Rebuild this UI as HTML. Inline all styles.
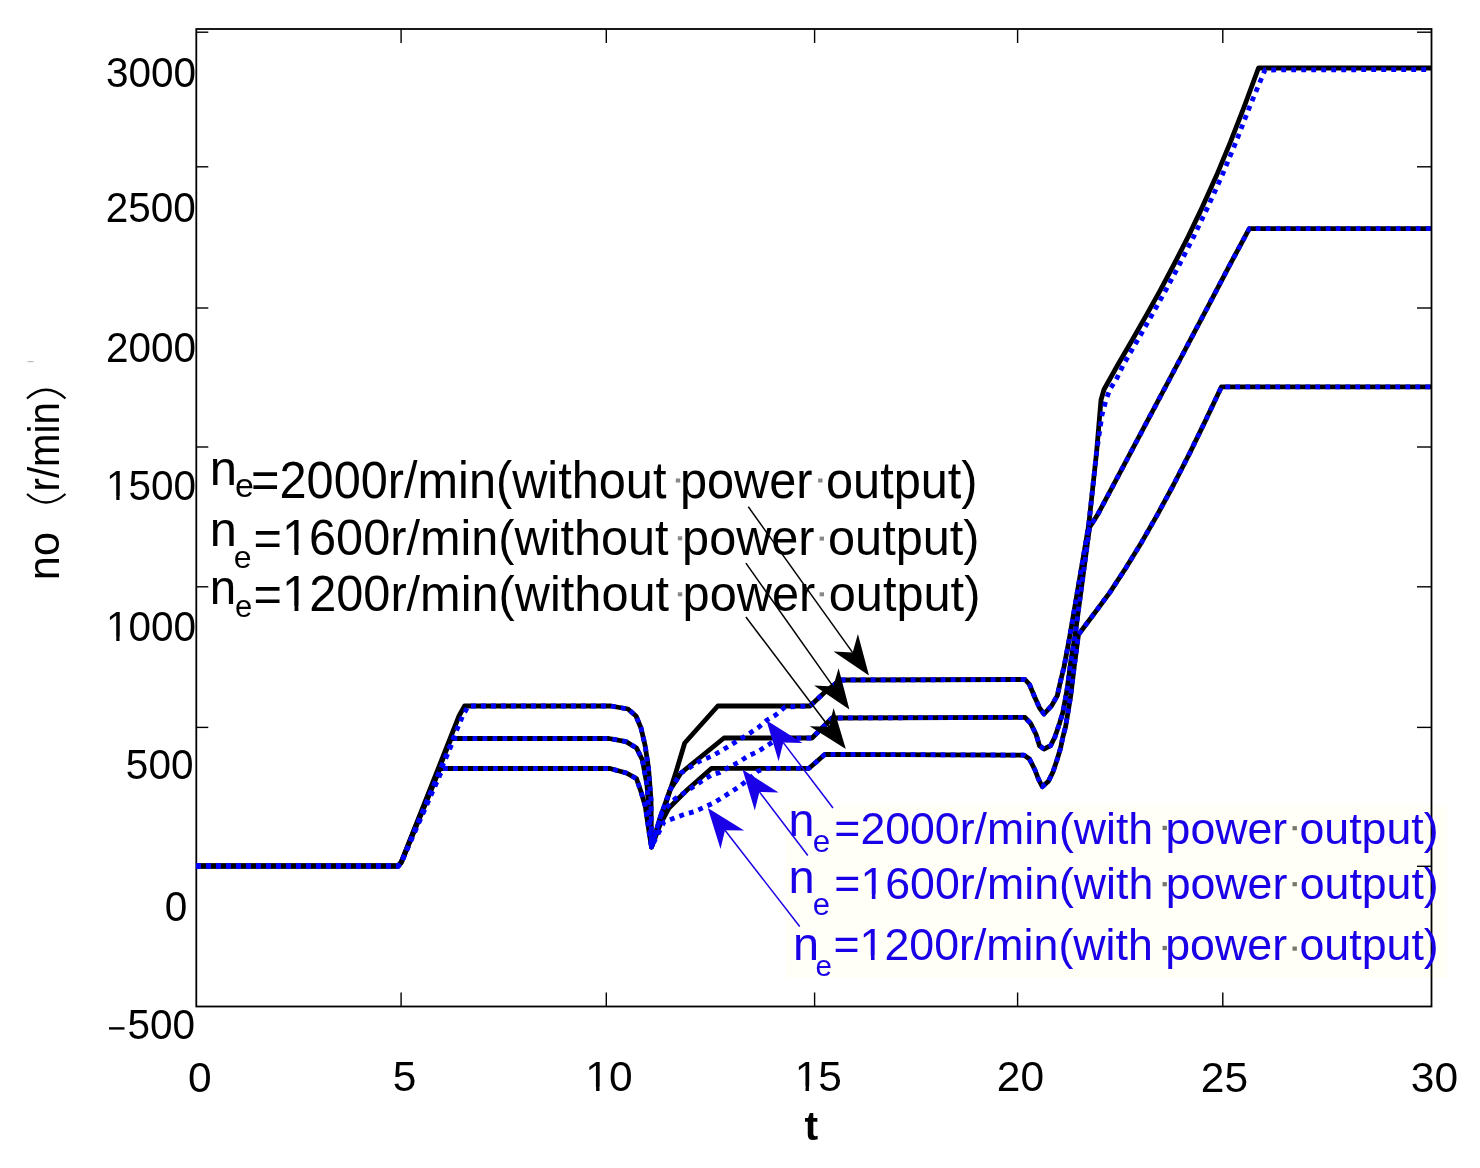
<!DOCTYPE html>
<html><head><meta charset="utf-8"><style>
html,body{margin:0;padding:0;background:#fff;}
svg{display:block;will-change:transform;}
text{font-family:"Liberation Sans",sans-serif;}
</style></head><body>
<svg width="1480" height="1168" viewBox="0 0 1480 1168">
<rect width="1480" height="1168" fill="#fff"/>
<rect x="786" y="805" width="661" height="173" fill="#fffff7"/>
<rect x="196.3" y="29.0" width="1235.2" height="977.5" fill="none" stroke="#000" stroke-width="1.8"/>
<line x1="196.3" y1="32.2" x2="208.3" y2="32.2" stroke="#000" stroke-width="1.4"/>
<line x1="1431.5" y1="32.2" x2="1417.0" y2="32.2" stroke="#000" stroke-width="1.4"/>
<line x1="196.3" y1="166.8" x2="208.3" y2="166.8" stroke="#000" stroke-width="1.4"/>
<line x1="1431.5" y1="166.8" x2="1417.0" y2="166.8" stroke="#000" stroke-width="1.4"/>
<line x1="196.3" y1="308.0" x2="208.3" y2="308.0" stroke="#000" stroke-width="1.4"/>
<line x1="1431.5" y1="308.0" x2="1417.0" y2="308.0" stroke="#000" stroke-width="1.4"/>
<line x1="196.3" y1="447.0" x2="208.3" y2="447.0" stroke="#000" stroke-width="1.4"/>
<line x1="1431.5" y1="447.0" x2="1417.0" y2="447.0" stroke="#000" stroke-width="1.4"/>
<line x1="196.3" y1="586.8" x2="208.3" y2="586.8" stroke="#000" stroke-width="1.4"/>
<line x1="1431.5" y1="586.8" x2="1417.0" y2="586.8" stroke="#000" stroke-width="1.4"/>
<line x1="196.3" y1="727.4" x2="208.3" y2="727.4" stroke="#000" stroke-width="1.4"/>
<line x1="1431.5" y1="727.4" x2="1417.0" y2="727.4" stroke="#000" stroke-width="1.4"/>
<line x1="196.3" y1="866.3" x2="208.3" y2="866.3" stroke="#000" stroke-width="1.4"/>
<line x1="1431.5" y1="866.3" x2="1417.0" y2="866.3" stroke="#000" stroke-width="1.4"/>
<line x1="401.1" y1="1006.5" x2="401.1" y2="992.5" stroke="#000" stroke-width="1.4"/>
<line x1="401.1" y1="29.0" x2="401.1" y2="43.0" stroke="#000" stroke-width="1.4"/>
<line x1="606.3" y1="1006.5" x2="606.3" y2="992.5" stroke="#000" stroke-width="1.4"/>
<line x1="606.3" y1="29.0" x2="606.3" y2="43.0" stroke="#000" stroke-width="1.4"/>
<line x1="814.6" y1="1006.5" x2="814.6" y2="992.5" stroke="#000" stroke-width="1.4"/>
<line x1="814.6" y1="29.0" x2="814.6" y2="43.0" stroke="#000" stroke-width="1.4"/>
<line x1="1017.6" y1="1006.5" x2="1017.6" y2="992.5" stroke="#000" stroke-width="1.4"/>
<line x1="1017.6" y1="29.0" x2="1017.6" y2="43.0" stroke="#000" stroke-width="1.4"/>
<line x1="1222.8" y1="1006.5" x2="1222.8" y2="992.5" stroke="#000" stroke-width="1.4"/>
<line x1="1222.8" y1="29.0" x2="1222.8" y2="43.0" stroke="#000" stroke-width="1.4"/>
<rect x="109" y="1027.2" width="15.5" height="2.4" fill="#000"/>
<g transform="translate(106.02,86.82) scale(0.9426,1)"><text x="0" y="0" font-size="43.0" fill="#000">3000</text></g>
<g transform="translate(105.72,221.82) scale(0.9426,1)"><text x="0" y="0" font-size="43.0" fill="#000">2500</text></g>
<g transform="translate(105.92,362.22) scale(0.9426,1)"><text x="0" y="0" font-size="43.0" fill="#000">2000</text></g>
<g transform="translate(105.92,500.38) scale(0.9426,1)"><text x="0" y="0" font-size="43.0" fill="#000">1500</text><rect x="1.68" y="-4.41" width="9.30" height="6.01" fill="#fff"/><rect x="14.45" y="-4.41" width="8.86" height="6.01" fill="#fff"/></g>
<g transform="translate(105.92,641.08) scale(0.9426,1)"><text x="0" y="0" font-size="43.0" fill="#000">1000</text><rect x="1.68" y="-4.41" width="9.30" height="6.01" fill="#fff"/><rect x="14.45" y="-4.41" width="8.86" height="6.01" fill="#fff"/></g>
<g transform="translate(125.86,779.48) scale(0.9426,1)"><text x="0" y="0" font-size="43.0" fill="#000">500</text></g>
<g transform="translate(164.74,920.52) scale(0.9426,1)"><text x="0" y="0" font-size="43.0" fill="#000">0</text></g>
<g transform="translate(127.46,1038.88) scale(0.9426,1)"><text x="0" y="0" font-size="43.0" fill="#000">500</text></g>
<g transform="translate(188.04,1091.68) scale(1.0000,1)"><text x="0" y="0" font-size="42.5" fill="#000">0</text></g>
<g transform="translate(392.80,1091.24) scale(1.0000,1)"><text x="0" y="0" font-size="42.5" fill="#000">5</text></g>
<g transform="translate(585.26,1091.24) scale(1.0000,1)"><text x="0" y="0" font-size="42.5" fill="#000">10</text><rect x="1.66" y="-4.38" width="9.19" height="5.98" fill="#fff"/><rect x="14.28" y="-4.38" width="8.76" height="5.98" fill="#fff"/></g>
<g transform="translate(794.66,1090.74) scale(1.0000,1)"><text x="0" y="0" font-size="42.5" fill="#000">15</text><rect x="1.66" y="-4.38" width="9.19" height="5.98" fill="#fff"/><rect x="14.28" y="-4.38" width="8.76" height="5.98" fill="#fff"/></g>
<g transform="translate(996.86,1091.28) scale(1.0000,1)"><text x="0" y="0" font-size="42.5" fill="#000">20</text></g>
<g transform="translate(1200.86,1091.68) scale(1.0000,1)"><text x="0" y="0" font-size="42.5" fill="#000">25</text></g>
<g transform="translate(1410.78,1091.68) scale(1.0000,1)"><text x="0" y="0" font-size="42.5" fill="#000">30</text></g>
<g transform="translate(804.50,1140.00) scale(1.0000,1)"><text x="0" y="0" font-size="41" fill="#000" font-weight="bold">t</text></g>
<polyline points="196.0,866.0 398.3,866.0 401.3,862.0 459.0,716.0 464.6,706.0 611.0,706.0 628.0,709.0 636.0,716.0 641.0,728.0 645.0,745.0 648.5,768.0 651.0,800.0 651.5,847.0 660.0,822.0 667.0,800.0 676.0,772.0 684.7,743.0 717.8,706.0 810.0,706.0 825.0,692.0 840.0,680.0 1025.0,679.5 1029.5,684.5 1035.0,697.8 1039.5,707.8 1044.0,714.0 1051.7,705.6 1057.3,695.6 1060.6,681.0 1064.0,667.0 1069.3,639.0 1076.0,600.0 1088.6,526.0 1096.6,452.0 1101.0,400.0 1104.0,389.5 1118.0,364.5 1132.1,340.2 1146.1,315.6 1160.2,290.3 1174.2,264.0 1188.3,236.4 1202.3,207.1 1216.4,175.8 1230.4,142.2 1244.5,105.8 1258.5,68.0 1431.0,68.0" fill="none" stroke="#000" stroke-width="4.8" stroke-linejoin="round"/>
<polyline points="196.0,866.0 398.3,866.0 401.4,862.0 451.1,738.5 609.0,738.5 626.0,741.6 636.5,748.0 642.4,760.0 647.0,785.0 651.5,847.0 660.0,818.0 670.0,790.0 681.0,773.0 724.0,738.0 812.0,738.0 832.0,718.0 1025.0,717.3 1030.6,723.4 1036.1,734.5 1039.5,745.7 1044.0,749.0 1050.6,745.7 1055.0,736.8 1059.5,723.4 1062.9,712.3 1067.0,690.0 1071.0,660.0 1075.0,636.0 1089.5,527.4 1097.7,514.5 1109.5,492.4 1129.4,454.9 1149.4,417.2 1169.4,379.5 1189.4,341.7 1209.4,303.8 1229.3,265.8 1249.3,228.7 1431.0,228.7" fill="none" stroke="#000" stroke-width="4.8" stroke-linejoin="round"/>
<polyline points="196.0,866.0 398.3,866.0 401.5,862.0 440.0,768.5 610.0,768.5 626.4,773.0 636.5,778.7 641.0,791.8 645.3,806.4 649.6,835.5 651.5,847.0 660.0,825.0 669.0,808.0 687.0,790.0 711.6,768.3 809.0,768.3 825.0,754.3 1024.0,755.1 1029.5,759.0 1035.0,770.0 1038.4,779.0 1042.3,786.8 1048.4,781.3 1052.8,772.4 1057.3,759.0 1060.6,748.0 1062.9,736.8 1065.6,726.6 1070.7,695.8 1074.0,668.5 1077.6,641.0 1078.5,634.5 1093.9,614.0 1109.9,592.4 1125.8,568.0 1141.8,541.9 1157.7,514.1 1173.7,484.5 1189.6,453.3 1205.6,420.4 1221.5,386.8 1431.0,386.8" fill="none" stroke="#000" stroke-width="4.8" stroke-linejoin="round"/>
<polyline points="196.0,866.0 398.3,866.0 401.5,862.0 462.6,716.0 468.2,706.0 611.0,706.0 628.0,709.0 636.0,716.0 641.0,728.0 645.0,745.0 648.5,768.0 651.0,800.0 651.5,847.0 660.0,818.0 670.0,790.0 681.0,773.0 700.0,761.0 712.3,755.9 722.0,750.4 732.9,743.6 750.7,732.6 759.0,727.0 767.0,720.0 776.0,714.8 785.0,707.0 810.0,706.0 825.0,692.0 840.0,680.0 1025.0,679.5 1029.5,684.5 1035.0,697.8 1039.5,707.8 1044.0,714.0 1051.7,705.6 1057.3,695.6 1060.6,681.0 1064.0,667.0 1069.3,639.0 1076.0,600.0 1088.6,526.0 1096.6,452.0 1102.0,415.0 1106.0,400.0 1110.0,389.0 1116.0,380.0 1123.5,364.5 1137.6,340.2 1151.6,315.6 1165.7,290.3 1179.7,264.0 1193.8,236.4 1207.8,207.1 1221.9,175.8 1235.9,142.2 1250.0,105.8 1265.0,70.0 1431.0,69.5" fill="none" stroke="#0000ff" stroke-width="4.8" stroke-dasharray="4.8 5.2" stroke-linejoin="round"/>
<polyline points="196.0,866.0 398.3,866.0 401.6,862.0 454.2,738.5 609.0,738.5 626.0,741.6 636.5,748.0 642.4,760.0 647.0,785.0 651.5,847.0 662.0,812.0 675.4,798.5 683.9,793.0 693.0,787.0 702.4,780.8 711.0,775.4 720.0,772.4 729.4,767.0 738.6,762.3 748.0,755.9 757.5,751.8 767.0,745.6 776.7,739.5 785.0,738.5 812.0,738.0 832.0,718.0 1025.0,717.3 1030.6,723.4 1036.1,734.5 1039.5,745.7 1044.0,749.0 1050.6,745.7 1055.0,736.8 1059.5,723.4 1062.9,712.3 1067.0,690.0 1071.0,660.0 1075.0,636.0 1089.5,527.4 1097.7,514.5 1109.5,492.4 1129.4,454.9 1149.4,417.2 1169.4,379.5 1189.4,341.7 1209.4,303.8 1229.3,265.8 1249.3,228.7 1431.0,228.7" fill="none" stroke="#0000ff" stroke-width="4.8" stroke-dasharray="4.8 5.2" stroke-linejoin="round"/>
<polyline points="196.0,866.0 398.3,866.0 401.6,862.0 442.8,768.5 610.0,768.5 626.4,773.0 636.5,778.7 641.0,791.8 645.3,806.4 649.6,835.5 651.5,847.0 664.0,822.0 674.7,817.8 684.7,814.3 694.7,811.6 704.7,807.0 714.0,802.8 722.4,797.4 731.7,791.6 740.5,785.8 750.0,778.0 758.0,771.0 766.0,768.3 809.0,768.3 825.0,754.3 1024.0,755.1 1029.5,759.0 1035.0,770.0 1038.4,779.0 1042.3,786.8 1048.4,781.3 1052.8,772.4 1057.3,759.0 1060.6,748.0 1062.9,736.8 1065.6,726.6 1070.7,695.8 1074.0,668.5 1077.6,641.0 1078.5,634.5 1093.9,614.0 1109.9,592.4 1125.8,568.0 1141.8,541.9 1157.7,514.1 1173.7,484.5 1189.6,453.3 1205.6,420.4 1221.5,386.8 1431.0,386.8" fill="none" stroke="#0000ff" stroke-width="4.8" stroke-dasharray="4.8 5.2" stroke-linejoin="round"/>
<line x1="748.3" y1="506.8" x2="852.7" y2="652.6" stroke="#000" stroke-width="1.5"/><polygon points="869.0,675.4 833.5,651.6 852.7,652.6 857.9,634.1" fill="#000"/>
<line x1="745.9" y1="563.1" x2="833.2" y2="686.6" stroke="#000" stroke-width="1.5"/><polygon points="849.4,709.5 814.1,685.5 833.2,686.6 838.6,668.2" fill="#000"/>
<line x1="745.9" y1="617" x2="828.9" y2="726.7" stroke="#000" stroke-width="1.5"/><polygon points="845.8,749.0 809.7,726.2 828.9,726.7 833.6,708.1" fill="#000"/>
<line x1="833" y1="808" x2="783.3" y2="742.6" stroke="#1a00e6" stroke-width="1.5"/><polygon points="766.4,720.3 802.5,743.1 783.3,742.6 778.6,761.2" fill="#1a00e6"/>
<line x1="807.8" y1="855.5" x2="759.4" y2="791.9" stroke="#1a00e6" stroke-width="1.5"/><polygon points="742.5,769.6 778.6,792.4 759.4,791.9 754.8,810.5" fill="#1a00e6"/>
<line x1="799.7" y1="926.5" x2="725.0" y2="830.2" stroke="#1a00e6" stroke-width="1.5"/><polygon points="707.8,808.1 744.2,830.5 725.0,830.2 720.5,848.9" fill="#1a00e6"/>
<g transform="translate(209.85,485.00) scale(1.0000,1)"><text x="0" y="0" font-size="49" fill="#000">n</text></g>
<g transform="translate(234.96,497.00) scale(1.0000,1)"><text x="0" y="0" font-size="34" fill="#000">e</text></g>
<g transform="translate(251.12,498.00) scale(0.9546,1)"><text x="0" y="0" font-size="51" fill="#000">=2000r/min(without power output)</text></g>
<g transform="translate(209.87,546.10) scale(1.0000,1)"><text x="0" y="0" font-size="48.7" fill="#000">n</text></g>
<g transform="translate(233.64,567.70) scale(1.0000,1)"><text x="0" y="0" font-size="32" fill="#000">e</text></g>
<g transform="translate(253.62,555.00) scale(0.9730,1)"><text x="0" y="0" font-size="50" fill="#000">=1600r/min(without power output)</text><rect x="31.15" y="-4.94" width="10.82" height="6.54" fill="#fff"/><rect x="46.00" y="-4.94" width="10.30" height="6.54" fill="#fff"/></g>
<g transform="translate(209.85,603.60) scale(1.0000,1)"><text x="0" y="0" font-size="47.5" fill="#000">n</text></g>
<g transform="translate(235.08,617.20) scale(1.0000,1)"><text x="0" y="0" font-size="31" fill="#000">e</text></g>
<g transform="translate(253.62,611.00) scale(0.9741,1)"><text x="0" y="0" font-size="50" fill="#000">=1200r/min(without power output)</text><rect x="31.15" y="-4.94" width="10.82" height="6.54" fill="#fff"/><rect x="46.00" y="-4.94" width="10.30" height="6.54" fill="#fff"/></g>
<g transform="translate(788.50,835.70) scale(1.0000,1)"><text x="0" y="0" font-size="46.7" fill="#1a00e6">n</text></g>
<g transform="translate(812.67,851.70) scale(1.0000,1)"><text x="0" y="0" font-size="31.4" fill="#1a00e6">e</text></g>
<g transform="translate(834.32,843.80) scale(0.9924,1)"><text x="0" y="0" font-size="45" fill="#1a00e6">=2000r/min(with power output)</text></g>
<g transform="translate(788.48,893.30) scale(1.0000,1)"><text x="0" y="0" font-size="47" fill="#1a00e6">n</text></g>
<g transform="translate(812.68,914.50) scale(1.0000,1)"><text x="0" y="0" font-size="31" fill="#1a00e6">e</text></g>
<g transform="translate(834.32,898.70) scale(1.0150,1)"><text x="0" y="0" font-size="44" fill="#1a00e6">=1600r/min(with power output)</text><rect x="27.41" y="-4.49" width="9.52" height="6.09" fill="#fffff7"/><rect x="40.48" y="-4.49" width="9.07" height="6.09" fill="#fffff7"/></g>
<g transform="translate(792.89,959.80) scale(1.0000,1)"><text x="0" y="0" font-size="46.8" fill="#1a00e6">n</text></g>
<g transform="translate(815.54,975.70) scale(1.0000,1)"><text x="0" y="0" font-size="29.6" fill="#1a00e6">e</text></g>
<g transform="translate(833.42,960.00) scale(1.0165,1)"><text x="0" y="0" font-size="44" fill="#1a00e6">=1200r/min(with power output)</text><rect x="27.41" y="-4.49" width="9.52" height="6.09" fill="#fffff7"/><rect x="40.48" y="-4.49" width="9.07" height="6.09" fill="#fffff7"/></g>
<rect x="675.8" y="478.5" width="4.4" height="4" fill="#888"/>
<rect x="818.1" y="478.5" width="4.4" height="4" fill="#888"/>
<rect x="677.8" y="536.3" width="4.4" height="4" fill="#888"/>
<rect x="819.6" y="536.6" width="4.4" height="4" fill="#888"/>
<rect x="677.8" y="592.3" width="4.4" height="4" fill="#888"/>
<rect x="819.6" y="592.3" width="4.4" height="4" fill="#888"/>
<rect x="1162.5" y="825.8" width="4.4" height="4.2" fill="#77776a"/>
<rect x="1292.5" y="826.1" width="4.4" height="4.2" fill="#77776a"/>
<rect x="1162.5" y="882.1" width="4.4" height="4.2" fill="#77776a"/>
<rect x="1292.5" y="882.1" width="4.4" height="4.2" fill="#77776a"/>
<rect x="1162.5" y="945.9" width="4.4" height="4.2" fill="#77776a"/>
<rect x="1292.5" y="946.5" width="4.4" height="4.2" fill="#77776a"/>
<text transform="translate(58.5,580.3) rotate(-90)" x="0" y="0" font-size="43.5" fill="#000">no</text>
<text transform="translate(58.5,491.5) rotate(-90) scale(0.925,1)" x="0" y="0" font-size="43.5" fill="#000">r/min</text>
<path d="M27,494 Q46,511 65.5,494" fill="none" stroke="#000" stroke-width="2.2"/>
<path d="M27,398.5 Q46,381 65.5,398.5" fill="none" stroke="#000" stroke-width="2.2"/>
<line x1="27.5" y1="361.6" x2="33.5" y2="361.6" stroke="#bbb" stroke-width="1.2"/>
</svg>
</body></html>
